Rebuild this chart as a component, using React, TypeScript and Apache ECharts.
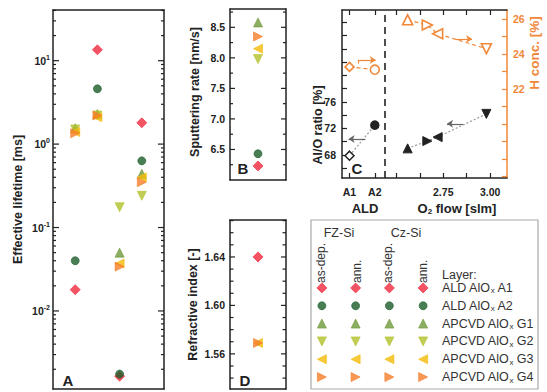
import React, { useEffect, useRef } from 'react';
import * as echarts from 'echarts';

// ---------- data ----------
const layers = ['A1', 'A2', 'G1', 'G2', 'G3', 'G4'];
const layerLabels = ['ALD AlO{sub|x} A1', 'ALD AlO{sub|x} A2', 'APCVD AlO{sub|x} G1', 'APCVD AlO{sub|x} G2', 'APCVD AlO{sub|x} G3', 'APCVD AlO{sub|x} G4'];
const conditions = ['FZ-Si as-dep.', 'FZ-Si ann.', 'Cz-Si as-dep.', 'Cz-Si ann.'];
const conditionPos = [1, 2, 3, 4];

// Panel A: effective lifetime [ms] per condition
const lifetimeA1 = [0.018, 13.5, 0.00165, 1.8];
const lifetimeA2 = [0.04, 4.6, 0.00175, 0.63];
const lifetimeG1 = [1.55, 2.3, 0.05, 0.44];
const lifetimeG2 = [1.5, 2.2, 0.175, 0.24];
const lifetimeG3 = [1.4, 2.1, 0.037, 0.4];
const lifetimeG4 = [1.35, 2.2, 0.034, 0.35];
const lifetimes = [lifetimeA1, lifetimeA2, lifetimeG1, lifetimeG2, lifetimeG3, lifetimeG4];

// Panel B: sputtering rate [nm/s] (A1..G4)
const sputterRate = [6.23, 6.43, 8.58, 7.98, 8.15, 8.35];

// Panel D: refractive index
const refractiveLayers = ['A1', 'G3', 'G4'];
const refractiveIndex = [1.64, 1.569, 1.569];

// Panel C
const aldLayers = ['A1', 'A2'];
const aldPos = [2.25, 2.385];
const alOAld = [67.9, 72.5];
const hConcAld = [23.26, 23.1];
const gLayers = ['G1', 'G4', 'G3', 'G2'];
const o2Flow = [2.56, 2.665, 2.72, 2.98];
const alOG = [69.0, 70.1, 70.7, 74.2];
const hConcG = [25.95, 25.65, 25.15, 24.3];

// ---------- styles ----------
const FONT = 'Liberation Sans, Arial, Helvetica, sans-serif';
const ORANGE = '#f0883a';
const INK = '#222';
const markers: Record<string, { symbol: string; size: number; rotate: number; color: string }> = {
  A1: { symbol: 'diamond', size: 10, rotate: 0, color: '#f0283c' },
  A2: { symbol: 'circle', size: 8, rotate: 0, color: '#1b5e2b' },
  G1: { symbol: 'triangle', size: 9, rotate: 0, color: '#6f9a3b' },
  G2: { symbol: 'triangle', size: 9, rotate: 180, color: '#b3c12a' },
  G3: { symbol: 'triangle', size: 9, rotate: 90, color: '#f4bb0a' },
  G4: { symbol: 'triangle', size: 9, rotate: -90, color: '#f57e2a' },
};

function scatter(layer: string, data: any[], xi: number, yi: number) {
  const m = markers[layer];
  return {
    type: 'scatter',
    name: layer,
    xAxisIndex: xi,
    yAxisIndex: yi,
    data,
    symbol: m.symbol,
    symbolSize: m.size,
    symbolRotate: m.rotate,
    itemStyle: { color: m.color, borderColor: m.color, borderWidth: 0.8 },
    z: 3,
  };
}

const tickStyle = { color: INK, width: 1.2 };
const lineOn = { show: true, onZero: false, lineStyle: { color: INK, width: 1.5 } };
const boldLabel = { fontFamily: FONT, fontWeight: 'bold', fontSize: 10.5, color: INK };

function mirrorAxis(base: any, position: string) {
  return { ...base, position, axisLabel: { show: false }, name: '' };
}
function frameX(gridIndex: number, max: number, position: string) {
  return {
    type: 'value', gridIndex, min: 0, max, position,
    axisLine: lineOn, axisTick: { show: false }, axisLabel: { show: false }, splitLine: { show: false },
  };
}

export default function App() {
  const ref = useRef<HTMLDivElement>(null);
  useEffect(() => {
    if (!ref.current) return;
    const chart = echarts.init(ref.current, null, { renderer: 'svg' });

    const aTicks: [number, number][] = [];
    for (let d = -3; d <= 1; d++) {
      if (d > -3) aTicks.push([Math.pow(10, d), 6]);
      for (let m = 2; m <= 9; m++) {
        const v = +(m * Math.pow(10, d)).toPrecision(3);
        if (v > 0.00116 && v < 40.5) aTicks.push([v, 3]);
      }
    }
    const bTicks: [number, number][] = [];
    for (let i = 1; i <= 11; i++) bTicks.push([6 + i * 0.25, i % 2 === 0 ? 5 : 3]);
    const dTicks: [number, number][] = [];
    for (let i = 0; i <= 13; i++) {
      const v = +(1.54 + i * 0.01).toFixed(2);
      dTicks.push([v, [1.56, 1.6, 1.64].includes(v) ? 5 : 3.5]);
    }
    const cLeftTicks: number[] = [];
    for (let v = 66; v <= 88; v += 2) cLeftTicks.push(v);
    const cRightTicks: number[] = [];
    for (let v = 17; v <= 26; v++) cRightTicks.push(v);
    const cXTicks = [aldPos[0], aldPos[1], 2.5, 2.625, 2.75, 2.875, 3.0];

    const yA = {
      type: 'log', gridIndex: 0, min: 0.00116, max: 40.5, position: 'left',
      axisLine: lineOn, axisTick: { show: false }, splitLine: { show: false },
      axisLabel: {
        show: true, showMinLabel: false, showMaxLabel: false, margin: 3,
        formatter: (v: number) => `{b|10}{s|${Math.round(Math.log10(v))}}`,
        rich: {
          b: { fontFamily: FONT, fontWeight: 'bold', fontSize: 10.5, color: INK },
          s: { fontFamily: FONT, fontWeight: 'bold', fontSize: 7, color: INK, padding: [0, 0, 7, 0] },
        },
      },
      name: 'Effective lifetime [ms]', nameLocation: 'middle', nameGap: 29,
      nameTextStyle: { fontFamily: FONT, fontWeight: 'bold', fontSize: 12.5, color: INK },
    };
    const yB = {
      type: 'value', gridIndex: 1, min: 6.0, max: 8.8, interval: 0.5, position: 'left',
      axisLine: lineOn, splitLine: { show: false }, axisTick: { show: false },
      axisLabel: { ...boldLabel, show: true, showMinLabel: false, showMaxLabel: false, margin: 5, formatter: (v: number) => v.toFixed(1) },
    };
    const yD = {
      type: 'value', gridIndex: 2, min: 1.531, max: 1.6705, position: 'left',
      axisLine: lineOn, splitLine: { show: false }, axisTick: { show: false },
      axisLabel: { ...boldLabel, show: true, margin: 5, customValues: [1.56, 1.6, 1.64], formatter: (v: number) => v.toFixed(2) },
      name: 'Refractive index [-]', nameLocation: 'middle', nameGap: 31,
      nameTextStyle: { fontFamily: FONT, fontWeight: 'bold', fontSize: 12.5, color: INK },
    };
    const xC = {
      type: 'value', gridIndex: 3, min: 2.21, max: 3.09, position: 'bottom',
      axisLine: lineOn,
      splitLine: { show: false },
      axisTick: { show: true, inside: true, length: 5, lineStyle: tickStyle, customValues: cXTicks },
      axisLabel: {
        ...boldLabel, show: true, margin: 8, customValues: [aldPos[0], aldPos[1], 2.75, 3.0],
        formatter: (v: number) => (Math.abs(v - aldPos[0]) < 1e-6 ? 'A1' : Math.abs(v - aldPos[1]) < 1e-6 ? 'A2' : v.toFixed(2)),
      },
    };

    const option: any = {
      animation: false,
      backgroundColor: '#fff',
      grid: [
        { left: 53, top: 10, width: 111, height: 379 },
        { left: 230, top: 9, width: 56, height: 171 },
        { left: 230, top: 220, width: 56, height: 169 },
        { left: 342, top: 10, width: 165, height: 168 },
        { left: 305, top: 279, width: 135, height: 107 },
      ],
      xAxis: [
        frameX(0, 5, 'bottom'),
        frameX(1, 2, 'bottom'),
        frameX(2, 2, 'bottom'),
        xC,
        { ...xC, position: 'top', axisLabel: { show: false } },
        { type: 'category', gridIndex: 4, data: conditions, show: false },
        frameX(0, 5, 'top'),
        frameX(1, 2, 'top'),
        frameX(2, 2, 'top'),
      ],
      yAxis: [
        yA,
        mirrorAxis(yA, 'right'),
        yB,
        mirrorAxis(yB, 'right'),
        yD,
        mirrorAxis(yD, 'right'),
        {
          type: 'value', gridIndex: 3, min: 64.53, max: 89.87, position: 'left',
          axisLine: lineOn, splitLine: { show: false },
          axisTick: { show: true, inside: true, length: 5, lineStyle: tickStyle, customValues: cLeftTicks },
          axisLabel: { ...boldLabel, show: true, margin: 6, customValues: [68, 72, 76] },
        },
        {
          type: 'value', gridIndex: 3, min: 16.91, max: 26.51, position: 'right',
          axisLine: { show: true, onZero: false, lineStyle: { color: ORANGE, width: 1.5 } }, splitLine: { show: false },
          axisTick: { show: true, inside: true, length: 5, lineStyle: { color: ORANGE, width: 1.2 }, customValues: cRightTicks },
          axisLabel: { ...boldLabel, show: true, color: ORANGE, margin: 6, customValues: [22, 24, 26] },
        },
        {
          type: 'category', gridIndex: 4, data: layers, inverse: true, position: 'right',
          axisLine: { show: false }, axisTick: { show: false }, splitLine: { show: false },
          axisLabel: {
            show: true, margin: 2, align: 'left',
            formatter: (v: string) => layerLabels[layers.indexOf(v)],
            fontFamily: FONT, fontSize: 12.5, color: '#333',
            rich: { sub: { fontFamily: FONT, fontSize: 8, color: '#333', padding: [6, 0, 0, 0] } },
          },
        },
      ],
      series: [
        // Panel A (series 0-5)
        ...layers.map((l, i) => scatter(l, conditionPos.map((x, j) => [x, lifetimes[i][j]]), 0, 0)),
        // Panel B (series 6-11)
        ...layers.map((l, i) => scatter(l, [[1, sputterRate[i]]], 1, 2)),
        // Panel D (series 12-14)
        ...refractiveLayers.map((l, i) => scatter(l, [[1, refractiveIndex[i]]], 2, 4)),
        // Panel C - Al/O ratio
        {
          type: 'line', xAxisIndex: 3, yAxisIndex: 6, z: 3,
          data: aldLayers.map((l, i) => ({
            value: [aldPos[i], alOAld[i]], symbol: markers[l].symbol, symbolSize: l === 'A1' ? 9 : 8,
            itemStyle: { color: l === 'A1' ? '#fff' : INK, borderColor: INK, borderWidth: 1.5 },
          })),
          lineStyle: { color: '#999', width: 1.2, type: [2, 2] },
          markLine: {
            silent: true, symbol: ['none', 'arrow'], symbolSize: 6, label: { show: false },
            lineStyle: { color: '#666', width: 1.2, type: 'solid' },
            data: [
              [{ coord: [2.335, 70.4] }, { coord: [2.245, 70.4] }],
              [{ coord: [2.856, 72.7] }, { coord: [2.77, 72.7] }],
            ],
          },
        },
        {
          type: 'line', xAxisIndex: 3, yAxisIndex: 6, z: 3,
          data: gLayers.map((l, i) => ({
            value: [o2Flow[i], alOG[i]], symbol: 'triangle', symbolRotate: markers[l].rotate, symbolSize: 9,
            itemStyle: { color: INK, borderColor: INK, borderWidth: 1 },
          })),
          lineStyle: { color: '#999', width: 1.2, type: [2, 2] },
          markLine: {
            silent: true, symbol: ['none', 'none'], label: { show: false },
            lineStyle: { color: INK, width: 1.6, type: [7, 5] },
            data: [{ xAxis: 2.445 }],
          },
        },
        // Panel C - H concentration
        {
          type: 'line', xAxisIndex: 3, yAxisIndex: 7, z: 3,
          data: aldLayers.map((l, i) => ({
            value: [aldPos[i], hConcAld[i]], symbol: markers[l].symbol, symbolSize: 9,
            itemStyle: { color: '#fff', borderColor: ORANGE, borderWidth: 1.6 },
          })),
          lineStyle: { color: ORANGE, width: 1.2, type: [4, 3] },
          markLine: {
            silent: true, symbol: ['none', 'arrow'], symbolSize: 6, label: { show: false },
            lineStyle: { color: ORANGE, width: 1.2, type: 'solid' },
            data: [
              [{ coord: [2.298, 23.66] }, { coord: [2.39, 23.66] }],
              [{ coord: [2.298, 23.45], symbol: 'none' }, { coord: [2.298, 23.66], symbol: 'none' }],
              [{ coord: [2.814, 24.86] }, { coord: [2.904, 24.86] }],
            ],
          },
        },
        {
          type: 'line', xAxisIndex: 3, yAxisIndex: 7, z: 3,
          data: gLayers.map((l, i) => ({
            value: [o2Flow[i], hConcG[i]], symbol: 'triangle', symbolRotate: markers[l].rotate, symbolSize: 10,
            itemStyle: { color: '#fff', borderColor: ORANGE, borderWidth: 1.6 },
          })),
          lineStyle: { color: ORANGE, width: 1.2, type: [4, 3] },
        },
        // Legend markers
        ...layers.map((l) => scatter(l, conditions.map((c) => [c, l]), 5, 8)),
      ],
    };

    const graphicBase: any[] = [
      { type: 'rect', shape: { x: 311, y: 220, width: 227, height: 169 }, style: { fill: 'none', stroke: '#aaa', lineWidth: 1.2 }, silent: true },
      ...[['A', 68, 380], ['B', 243, 168], ['C', 357, 168], ['D', 245, 380]].map(([t, x, y]) => ({
        type: 'text', x, y, style: { text: t, fontFamily: FONT, fontWeight: 'bold', fontSize: 15, fill: INK, align: 'center', verticalAlign: 'middle' },
      })),
      { type: 'text', x: 195, y: 92, rotation: Math.PI / 2, style: { text: 'Sputtering rate [nm/s]', fontFamily: FONT, fontWeight: 'bold', fontSize: 12.5, fill: INK, align: 'center', verticalAlign: 'middle' } },
      { type: 'text', x: 318, y: 125, rotation: Math.PI / 2, style: { text: 'Al/O ratio [%]', fontFamily: FONT, fontWeight: 'bold', fontSize: 12.5, fill: INK, align: 'center', verticalAlign: 'middle' } },
      { type: 'text', x: 534, y: 53, rotation: Math.PI / 2, style: { text: 'H conc. [%]', fontFamily: FONT, fontWeight: 'bold', fontSize: 13.5, fill: ORANGE, align: 'center', verticalAlign: 'middle' } },
      { type: 'text', x: 365, y: 208, style: { text: 'ALD', fontFamily: FONT, fontWeight: 'bold', fontSize: 13, fill: INK, align: 'center', verticalAlign: 'middle' } },
      {
        type: 'text', x: 457, y: 208,
        style: {
          text: '{n|O}{sub|2}{n| flow [slm]}', align: 'center', verticalAlign: 'middle',
          rich: {
            n: { fontFamily: FONT, fontWeight: 'bold', fontSize: 13, fill: INK },
            sub: { fontFamily: FONT, fontWeight: 'bold', fontSize: 8, fill: INK, padding: [7, 0, 0, 0] },
          },
        },
      },
      ...[['FZ-Si', 339], ['Cz-Si', 406]].map(([t, x]) => ({
        type: 'text', x, y: 233, style: { text: t, fontFamily: FONT, fontSize: 12.5, fill: '#333', align: 'center', verticalAlign: 'middle' },
      })),
      ...[['as-dep.', 321], ['ann.', 357], ['as-dep.', 388], ['ann.', 423]].map(([t, x]) => ({
        type: 'text', x, y: 283, rotation: Math.PI / 2, style: { text: t, fontFamily: FONT, fontSize: 12, fill: '#333', align: 'left', verticalAlign: 'middle' },
      })),
      { type: 'text', x: 442, y: 275, style: { text: 'Layer:', fontFamily: FONT, fontSize: 12.5, fill: '#333', align: 'left', verticalAlign: 'middle' } },
    ];

    chart.setOption(option);

    // Tick marks on both vertical edges of panels A, B, D, positioned through the axis scales.
    const tickEls: any[] = [];
    const addTicks = (seriesIndex: number, xMin: number, xMax: number, ticks: [number, number][]) => {
      ticks.forEach(([v, len]) => {
        const pL = chart.convertToPixel({ seriesIndex }, [xMin, v]) as number[];
        const pR = chart.convertToPixel({ seriesIndex }, [xMax, v]) as number[];
        if (!pL || !pR || !isFinite(pL[1])) return;
        const st = { stroke: INK, lineWidth: 1.2 };
        tickEls.push({ type: 'line', z: 100, silent: true, shape: { x1: pL[0], y1: pL[1], x2: pL[0] + len, y2: pL[1] }, style: st });
        tickEls.push({ type: 'line', z: 100, silent: true, shape: { x1: pR[0], y1: pR[1], x2: pR[0] - len, y2: pR[1] }, style: st });
      });
    };
    try {
      addTicks(0, 0, 5, aTicks);
      addTicks(6, 0, 2, bTicks);
      addTicks(12, 0, 2, dTicks);
    } catch (e) {
      // ignore
    }
    chart.setOption({ graphic: [...graphicBase, ...tickEls] });

    return () => chart.dispose();
  }, []);

  return <div ref={ref} style={{ position: 'fixed', left: 0, top: 0, width: 547, height: 392, background: '#fff' }} />;
}
